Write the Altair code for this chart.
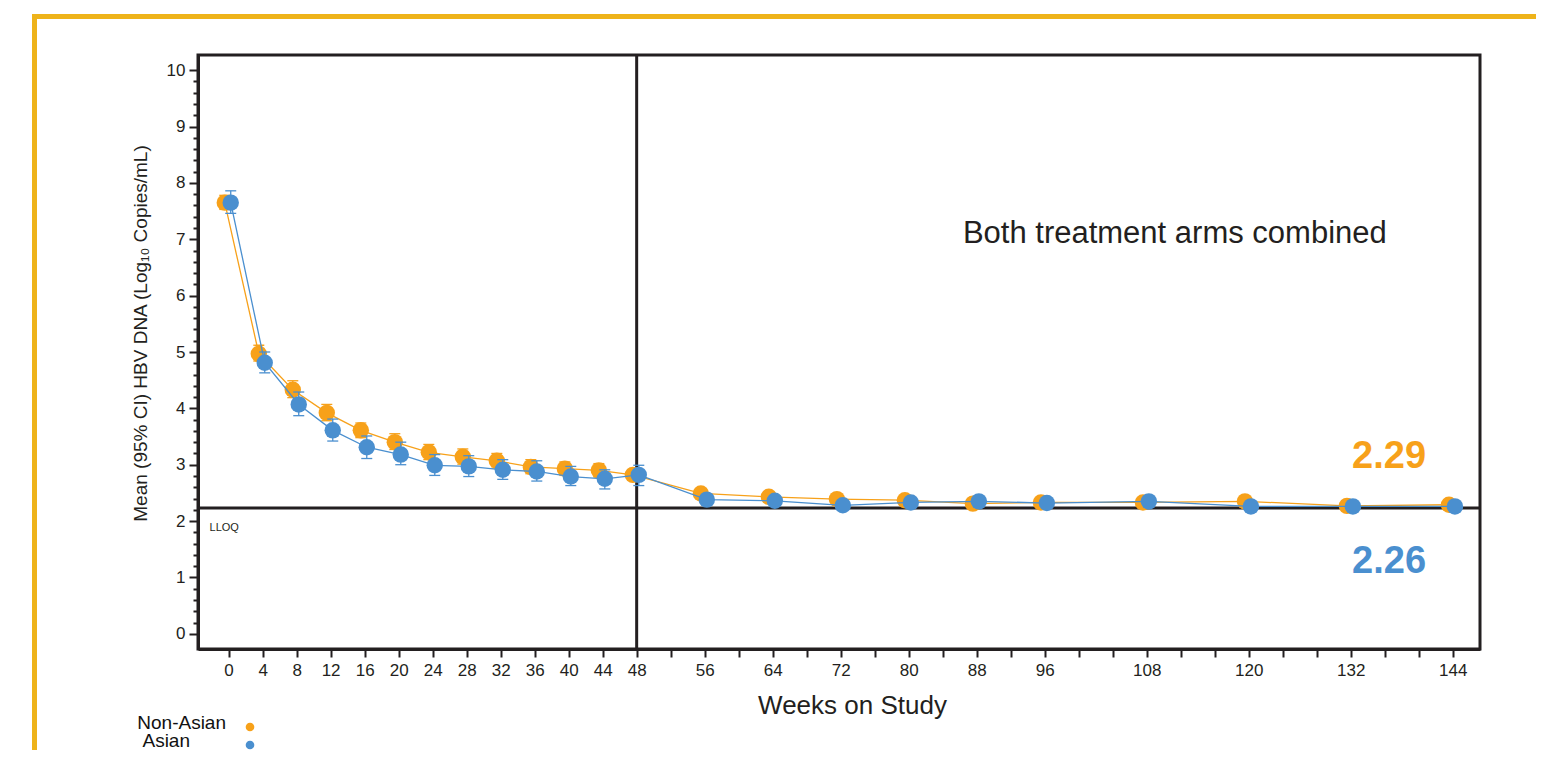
import altair as alt
import pandas as pd

# ---------------- data ----------------
weeks = [0, 4, 8, 12, 16, 20, 24, 28, 32, 36, 40, 44, 48, 56, 64, 72, 80, 88, 96, 108, 120, 132, 144]
series_names = ["Non-Asian", "Asian"]
series_colors = ["#F7A11A", "#4A8FCF"]

non_asian_mean = [7.65, 4.97, 4.33, 3.92, 3.61, 3.40, 3.22, 3.14, 3.07, 2.96, 2.93, 2.90, 2.82,
                  2.49, 2.43, 2.39, 2.37, 2.31, 2.33, 2.33, 2.35, 2.27, 2.29]
non_asian_lo = [7.53, 4.84, 4.19, 3.78, 3.48, 3.27, 3.09, 3.01, 2.94, 2.84, 2.81, 2.78, 2.73,
                2.43, 2.37, 2.33, 2.31, 2.26, 2.28, 2.28, 2.29, 2.24, 2.26]
non_asian_hi = [7.78, 5.12, 4.49, 4.07, 3.74, 3.55, 3.36, 3.28, 3.20, 3.09, 3.05, 3.02, 2.91,
                2.55, 2.49, 2.45, 2.43, 2.36, 2.38, 2.38, 2.41, 2.30, 2.32]

asian_mean = [7.65, 4.81, 4.07, 3.61, 3.31, 3.18, 2.99, 2.97, 2.91, 2.88, 2.79, 2.75, 2.82,
              2.38, 2.36, 2.28, 2.33, 2.35, 2.32, 2.35, 2.26, 2.26, 2.26]
asian_lo = [7.46, 4.63, 3.87, 3.42, 3.11, 3.00, 2.81, 2.79, 2.74, 2.71, 2.63, 2.57, 2.63,
            2.34, 2.31, 2.25, 2.28, 2.30, 2.28, 2.30, 2.23, 2.23, 2.23]
asian_hi = [7.86, 5.00, 4.29, 3.81, 3.51, 3.40, 3.18, 3.16, 3.09, 3.07, 2.97, 2.91, 2.99,
            2.43, 2.41, 2.32, 2.38, 2.40, 2.36, 2.40, 2.30, 2.30, 2.30]

x_tick_weeks = list(range(0, 145, 4))
x_label_weeks = weeks
y_tick_values = [round(i * 0.2, 1) for i in range(51)]
lloq_value = 2.23
split_week = 48
end_labels = ["2.29", "2.26"]
panel_text = "Both treatment arms combined"
x_title = "Weeks on Study"
y_title = "Mean (95% CI) HBV DNA (Log\u2081\u2080 Copies/mL)"

FONT = "Liberation Sans"
INK = "#231F20"
FRAME = "#EEB31A"

rows = []
for name, m, lo, hi in [(series_names[0], non_asian_mean, non_asian_lo, non_asian_hi),
                        (series_names[1], asian_mean, asian_lo, asian_hi)]:
    for w, a, b, c in zip(weeks, m, lo, hi):
        rows.append({"series": name, "week": w, "mean": a, "lo": b, "hi": c})
df = pd.DataFrame(rows)

# ---------------- scales / axes ----------------
x_scale = alt.Scale(domain=[-3.6, 147.2], nice=False, zero=False)
y_scale = alt.Scale(domain=[-0.27, 10.27], nice=False, zero=False)

label_list = "[" + ",".join(str(v) for v in x_label_weeks) + "]"
x_axis = alt.Axis(
    values=x_tick_weeks,
    labelExpr=f"indexof({label_list}, datum.value) >= 0 ? datum.label : ''",
    title=x_title, titleFontSize=26, titleFont=FONT, titleFontWeight="normal",
    titleX=654, titleY=43, titleBaseline="top", titleAnchor="middle", titleAlign="center",
    titleColor=INK,
    labelFontSize=17, labelFont=FONT, labelColor=INK, labelPadding=5,
    tickSize=8, tickWidth=2, tickColor=INK,
    domainColor=INK, domainWidth=3, grid=False, labelFlush=False, labelOverlap=False,
)
y_axis = alt.Axis(
    values=y_tick_values, format=".0f",
    labelExpr="datum.value % 1 === 0 ? format(datum.value, 'd') : ''",
    title=y_title, titleFontSize=19, titleFont=FONT, titleFontWeight="normal",
    titleX=-58, titleY=278, titleBaseline="middle", titleAngle=270, titleAlign="center",
    titleColor=INK,
    labelFontSize=17, labelFont=FONT, labelColor=INK, labelPadding=4,
    tickSize={"condition": {"test": "datum.value % 1 === 0", "value": 9}, "value": 5},
    tickWidth=2, tickColor=INK,
    domainColor=INK, domainWidth=3, grid=False, labelFlush=False, labelOverlap=False,
)


def xenc(field):
    return alt.X(field, type="quantitative", scale=x_scale, axis=x_axis)


def yenc(field):
    return alt.Y(field, type="quantitative", scale=y_scale, axis=y_axis)


base = alt.Chart(df).transform_calculate(
    xpos=f"datum.week + (datum.series === '{series_names[1]}' ? 0.25 : -0.45)"
)

layers = []

# reference lines
layers.append(alt.Chart(pd.DataFrame({"w": [split_week]})).mark_rule(
    color=INK, strokeWidth=3).encode(x=xenc("w")))
layers.append(alt.Chart(pd.DataFrame({"v": [lloq_value]})).mark_rule(
    color=INK, strokeWidth=3).encode(y=yenc("v")))

for name, col in zip(series_names, series_colors):
    s = base.transform_filter(alt.datum.series == name)
    layers.append(s.mark_line(color=col, strokeWidth=1.3).encode(x=xenc("xpos"), y=yenc("mean")))
    layers.append(s.mark_rule(color=col, strokeWidth=1.3).encode(
        x=xenc("xpos"), y=yenc("lo"), y2=alt.Y2("hi")))
    layers.append(s.mark_tick(color=col, orient="horizontal", size=11, thickness=1.3, opacity=1).encode(
        x=xenc("xpos"), y=yenc("lo")))
    layers.append(s.mark_tick(color=col, orient="horizontal", size=11, thickness=1.3, opacity=1).encode(
        x=xenc("xpos"), y=yenc("hi")))
    layers.append(s.mark_circle(color=col, size=270, opacity=1).encode(
        x=xenc("xpos"), y=yenc("mean")))

# annotations
ann = pd.DataFrame({"x": [111.3], "y": [7.09], "t": [panel_text]})
layers.append(alt.Chart(ann).mark_text(font=FONT, fontSize=31, color=INK, align="center",
                                       baseline="middle").encode(x=xenc("x"), y=yenc("y"), text="t:N"))
end_df = pd.DataFrame({"x": [136.5, 136.5], "y": [3.13, 1.28], "t": end_labels, "c": series_colors})
layers.append(alt.Chart(end_df).mark_text(font=FONT, fontSize=38, fontWeight="bold", align="center",
                                          baseline="middle").encode(
    x=xenc("x"), y=yenc("y"), text="t:N", color=alt.Color("c:N", scale=None)))
lloq_df = pd.DataFrame({"x": [-2.24], "y": [1.88], "t": ["LLOQ"]})
layers.append(alt.Chart(lloq_df).mark_text(font=FONT, fontSize=11, color=INK, align="left",
                                           baseline="middle").encode(x=xenc("x"), y=yenc("y"), text="t:N"))

# legend (custom, labels left of symbols)
one = pd.DataFrame({"a": [0]})
legend_pos = [(28, 668, 52, 672), (-8, 686, 52, 690)]
for name, col, (tx, ty, px, py) in zip(series_names, series_colors, legend_pos):
    layers.append(alt.Chart(one).mark_text(font=FONT, fontSize=19, color="#111111", align="right",
                                           baseline="middle").encode(
        x=alt.value(tx), y=alt.value(ty), text=alt.value(name)))
    layers.append(alt.Chart(one).mark_circle(color=col, size=75, opacity=1).encode(
        x=alt.value(px), y=alt.value(py)))

# yellow slide frame
layers.append(alt.Chart(one).mark_rule(color=FRAME, strokeWidth=5).encode(
    x=alt.value(-163.5), y=alt.value(-41), y2=alt.value(720)))
layers.append(alt.Chart(one).mark_rule(color=FRAME, strokeWidth=5).encode(
    x=alt.value(-166), x2=alt.value(1338), y=alt.value(-38.5)))

chart = alt.layer(*layers).properties(
    width=1282, height=594,
    autosize=alt.AutoSizeParams(type="none"),
    padding={"left": 190, "top": 47, "right": 56, "bottom": 101},
).configure_view(stroke=INK, strokeWidth=3)

chart.save("out.html", embed_options={"renderer": "svg", "actions": False})
